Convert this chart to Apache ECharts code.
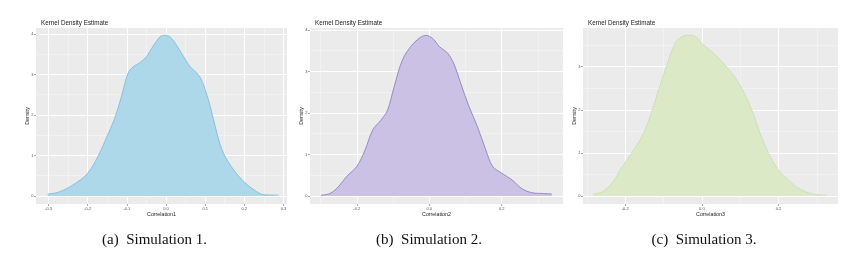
<!DOCTYPE html>
<html>
<head>
<meta charset="utf-8">
<script src="https://cdn.jsdelivr.net/npm/echarts@6/dist/echarts.min.js"></script>
<style>
html,body{margin:0;padding:0;background:#fff;}
#c{width:864px;height:255px;}
</style>
</head>
<body>
<div id="c"></div>
<script>
// ---- data ----
const x1 = [-0.302,-0.273,-0.238,-0.2,-0.17,-0.153,-0.131,-0.114,-0.097,-0.084,-0.067,-0.05,-0.033,-0.015,-0.003,0.010,0.027,0.045,0.062,0.083,0.096,0.113,0.130,0.147,0.173,0.199,0.225,0.250,0.287];
const d1 = [0.05,0.10,0.27,0.56,1.05,1.42,1.92,2.45,3.03,3.19,3.29,3.44,3.70,3.93,3.97,3.93,3.72,3.44,3.19,2.99,2.74,2.21,1.55,1.05,0.64,0.35,0.15,0.03,0.02];
const x2 = [-0.298,-0.274,-0.251,-0.228,-0.2,-0.177,-0.156,-0.133,-0.115,-0.097,-0.074,-0.051,-0.028,-0.009,0.009,0.028,0.051,0.069,0.087,0.110,0.133,0.156,0.175,0.2,0.228,0.255,0.283,0.315,0.338];
const d2 = [0.02,0.06,0.22,0.47,0.71,1.11,1.59,1.83,2.07,2.63,3.28,3.60,3.80,3.87,3.80,3.60,3.44,3.16,2.71,2.15,1.67,1.11,0.71,0.55,0.39,0.18,0.08,0.06,0.05];
const x3 = [-0.283,-0.261,-0.235,-0.209,-0.183,-0.157,-0.135,-0.113,-0.091,-0.070,-0.052,-0.035,-0.017,0.0,0.026,0.052,0.078,0.104,0.130,0.152,0.174,0.2,0.226,0.252,0.287,0.326];
const d3 = [0.04,0.09,0.29,0.66,1.00,1.37,1.84,2.46,3.04,3.54,3.70,3.73,3.70,3.54,3.35,3.12,2.85,2.50,2.00,1.45,0.99,0.60,0.37,0.18,0.05,0.02];

const xTicks1 = [-0.3,-0.2,-0.1,0.0,0.1,0.2,0.3];
const xMinor1 = [-0.25,-0.15,-0.05,0.05,0.15,0.25];
const xTicks23 = [-0.2,0.0,0.2];
const xMinor23 = [-0.3,-0.1,0.1,0.3];
const yTicks12 = [0,1,2,3,4];
const yTicks3 = [0,1,2,3];
const yMinor = [0.5,1.5,2.5,3.5];

const xNames = ['Correlation1','Correlation2','Correlation3'];
const captions = ['(a)  Simulation 1.','(b)  Simulation 2.','(c)  Simulation 3.'];
const titleText = 'Kernel Density Estimate';

// ---- layout / style ----
const panels = [
  {left:36, width:251, xmin:-0.332, xmax:0.309, ymin:-0.198, ymax:4.148, xt:xTicks1, xm:xMinor1, yt:yTicks12, x:x1, d:d1, fill:'#ADD8EA', line:'#7DB3DD', cap:154.5, yGap:5.7},
  {left:310, width:253, xmin:-0.329, xmax:0.369, ymin:-0.193, ymax:4.048, xt:xTicks23, xm:xMinor23, yt:yTicks12, x:x2, d:d2, fill:'#CAC1E4', line:'#8677BE', cap:429, yGap:5.7},
  {left:583, width:255, xmin:-0.310, xmax:0.355, ymin:-0.186, ymax:3.898, xt:xTicks23, xm:xMinor23, yt:yTicks3, x:x3, d:d3, fill:'#DBE9C7', line:'#C6DCB0', cap:704, yGap:6}
];
const TOP = 28, H = 176;
const sans = 'Liberation Sans, Arial, sans-serif';

const grid = [], xAxis = [], yAxis = [], series = [], title = [], graphic = [];
panels.forEach((p, i) => {
  grid.push({left:p.left, top:TOP, width:p.width, height:H, show:true, backgroundColor:'#EBEBEB', borderWidth:0, containLabel:false});
  // major x axis
  xAxis.push({
    type:'value', gridIndex:i, min:p.xmin, max:p.xmax, position:'bottom',
    name:xNames[i], nameLocation:'middle', nameGap:8.5, nameMoveOverlap:false,
    nameTextStyle:{fontFamily:sans, fontSize:5.3, color:'#1a1a1a'},
    axisLine:{show:false, onZero:false},
    axisTick:{show:true, length:2, customValues:p.xt, lineStyle:{color:'#4d4d4d', width:0.5}},
    axisLabel:{show:true, customValues:p.xt, margin:2.5, fontSize:4, fontFamily:sans, color:'#555',
      formatter:v => v.toFixed(1)},
    splitLine:{show:true, lineStyle:{color:'#FFFFFF', width:1}}
  });
  // minor x axis
  xAxis.push({
    type:'value', gridIndex:i, min:p.xmin, max:p.xmax, position:'top',
    axisLine:{show:false, onZero:false},
    axisTick:{show:false, customValues:p.xm},
    axisLabel:{show:false, customValues:p.xm},
    splitLine:{show:true, lineStyle:{color:'#F6F6F6', width:0.6}}
  });
  // major y axis
  yAxis.push({
    type:'value', gridIndex:i, min:p.ymin, max:p.ymax, position:'left',
    name:'Density', nameLocation:'middle', nameGap:p.yGap, nameRotate:90, nameMoveOverlap:false,
    nameTextStyle:{fontFamily:sans, fontSize:5.3, color:'#1a1a1a'},
    axisLine:{show:false, onZero:false},
    axisTick:{show:true, length:2, customValues:p.yt, lineStyle:{color:'#4d4d4d', width:0.5}},
    axisLabel:{show:true, customValues:p.yt, margin:2.5, fontSize:4, fontFamily:sans, color:'#555',
      formatter:v => String(Math.round(v))},
    splitLine:{show:true, lineStyle:{color:'#FFFFFF', width:1}}
  });
  // minor y axis
  yAxis.push({
    type:'value', gridIndex:i, min:p.ymin, max:p.ymax, position:'right',
    axisLine:{show:false, onZero:false},
    axisTick:{show:false, customValues:yMinor},
    axisLabel:{show:false, customValues:yMinor},
    splitLine:{show:true, lineStyle:{color:'#F6F6F6', width:0.6}}
  });
  series.push({
    type:'line', xAxisIndex:2*i, yAxisIndex:2*i, smooth:0.35, showSymbol:false, silent:true,
    data:p.x.map((v, k) => [v, p.d[k]]),
    lineStyle:{color:p.line, width:0.8},
    areaStyle:{color:p.fill, opacity:1},
    z:3
  });
  title.push({text:titleText, left:p.left, top:15.5,
    textStyle:{fontFamily:sans, fontSize:6.3, fontWeight:'normal', color:'#1a1a1a'}});
  graphic.push({type:'text', x:p.cap, y:240, silent:true,
    style:{text:captions[i], fill:'#111', textAlign:'center', textVerticalAlign:'middle',
      font:'15px "Liberation Serif", "Times New Roman", serif'}});
});

const chart = echarts.init(document.getElementById('c'), null, {renderer:'canvas'});
chart.setOption({animation:false, backgroundColor:'#ffffff', title, grid, xAxis, yAxis, series, graphic});
</script>
</body>
</html>
